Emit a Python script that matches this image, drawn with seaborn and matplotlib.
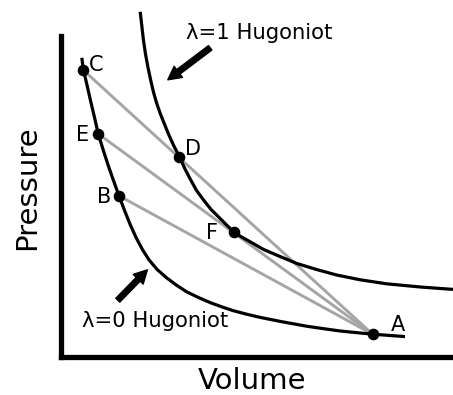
import matplotlib
matplotlib.use("Agg")
import matplotlib.pyplot as plt
import pandas as pd
import seaborn as sns

# Unreacted (lambda = 0) Hugoniot, pressure vs specific volume
v_h0 = [0.52, 0.56, 0.65, 0.74, 0.84, 0.93, 1.06, 1.19, 1.32, 1.45, 1.59, 1.73,
        1.88, 2.04, 2.20, 2.40, 2.64, 2.88, 3.14, 3.43, 3.73, 4.03, 4.30, 4.64,
        4.98, 5.48, 6.14, 6.55, 6.98, 7.38, 7.79, 8.20, 8.60]
p_h0 = [7.48, 7.18, 6.80, 6.40, 5.98, 5.58, 5.16, 4.76, 4.39, 4.03, 3.66, 3.31,
        2.98, 2.68, 2.43, 2.19, 1.98, 1.80, 1.63, 1.49, 1.36, 1.25, 1.16, 1.07,
        0.99, 0.89, 0.77, 0.71, 0.65, 0.61, 0.57, 0.54, 0.51]

# Fully reacted (lambda = 1) Hugoniot
v_h1 = [1.98, 2.02, 2.06, 2.11, 2.17, 2.24, 2.31, 2.39, 2.48, 2.58, 2.68, 2.81,
        2.96, 3.09, 3.23, 3.39, 3.56, 3.75, 3.98, 4.15, 4.33, 4.53, 4.73, 5.06,
        5.48, 5.89, 6.38, 6.89, 7.48, 8.14, 8.98, 9.80]
p_h1 = [8.63, 8.28, 7.93, 7.59, 7.26, 6.93, 6.63, 6.35, 6.09, 5.84, 5.59, 5.30,
        5.01, 4.72, 4.45, 4.16, 3.93, 3.69, 3.46, 3.29, 3.12, 2.99, 2.88, 2.69,
        2.51, 2.34, 2.19, 2.05, 1.93, 1.83, 1.75, 1.69]

# Labelled states
states = ["A", "B", "C", "D", "E", "F"]
v_state = [7.79, 1.45, 0.56, 2.96, 0.93, 4.33]
p_state = [0.57, 4.03, 7.17, 5.01, 5.58, 3.12]

# Rayleigh lines run from the initial state A to these shocked states
rayleigh_ends = ["C", "E", "B"]

sns.set_theme(style="white")
plt.rcParams["font.family"] = ["DejaVu Sans"]
plt.rcParams["text.color"] = "black"
plt.rcParams["axes.labelcolor"] = "black"

fig = plt.figure(figsize=(4.53, 3.95), dpi=100)
ax = fig.add_axes([61 / 453, 38 / 395, 392 / 453, 357 / 395])

pos = {s: (v, p) for s, v, p in zip(states, v_state, p_state)}

rows = []
for end in rayleigh_ends:
    for s in ("A", end):
        rows.append({"line": end, "v": pos[s][0], "p": pos[s][1]})
ray = pd.DataFrame(rows)
sns.lineplot(data=ray, x="v", y="p", units="line", estimator=None, sort=False,
             color="#a5a5a5", lw=2.1, ax=ax, zorder=1)

for vv, pp in ((v_h0, p_h0), (v_h1, p_h1)):
    sns.lineplot(x=vv, y=pp, sort=False, estimator=None, color="black",
                 lw=2.3, ax=ax, zorder=2, solid_joinstyle="round",
                 solid_capstyle="butt")

sns.scatterplot(x=v_state, y=p_state, color="black", s=70, edgecolor="black",
                linewidth=0, ax=ax, zorder=3)

# State letters, offset in points from each marker
offsets = {"A": (18.5, 6.5), "B": (-10.8, -0.8), "C": (9.3, 4.0),
           "D": (10.0, 5.6), "E": (-11.0, -0.6), "F": (-16.0, -0.4)}
for s in states:
    ax.annotate(s, xy=pos[s], xytext=offsets[s], textcoords="offset points",
                ha="center", va="center", fontsize=15, color="black")

# Curve labels with pointer arrows
arrow_style = "simple,head_length=0.95,head_width=1.0,tail_width=0.4"
ax.annotate("", xy=(2.67, 6.93), xytext=(3.73, 7.73),
            arrowprops=dict(arrowstyle=arrow_style, fc="black", ec="black",
                            mutation_scale=10, shrinkA=0, shrinkB=0))
ax.annotate("", xy=(2.16, 2.18), xytext=(1.42, 1.42),
            arrowprops=dict(arrowstyle=arrow_style, fc="black", ec="black",
                            mutation_scale=10, shrinkA=0, shrinkB=0))
ax.text(4.95, 8.1, "λ=1 Hugoniot", ha="center", va="center", fontsize=15.2)
ax.text(2.35, 0.9, "λ=0 Hugoniot", ha="center", va="center", fontsize=15.2)

ax.set_xlim(0, 9.8)
ax.set_ylim(0, 8.925)
ax.set_xticks([])
ax.set_yticks([])
for side in ("top", "right"):
    ax.spines[side].set_visible(False)
for side in ("left", "bottom"):
    ax.spines[side].set_linewidth(3.8)
    ax.spines[side].set_color("black")
ax.spines["left"].set_bounds(0, 8.03)

ax.set_xlabel("Volume", fontsize=21, va="center")
ax.set_ylabel("Pressure", fontsize=21, va="center")
ax.xaxis.set_label_coords(0.487, -0.067)
ax.yaxis.set_label_coords(-0.087, 0.473)

fig.savefig("out.png", dpi=100)
